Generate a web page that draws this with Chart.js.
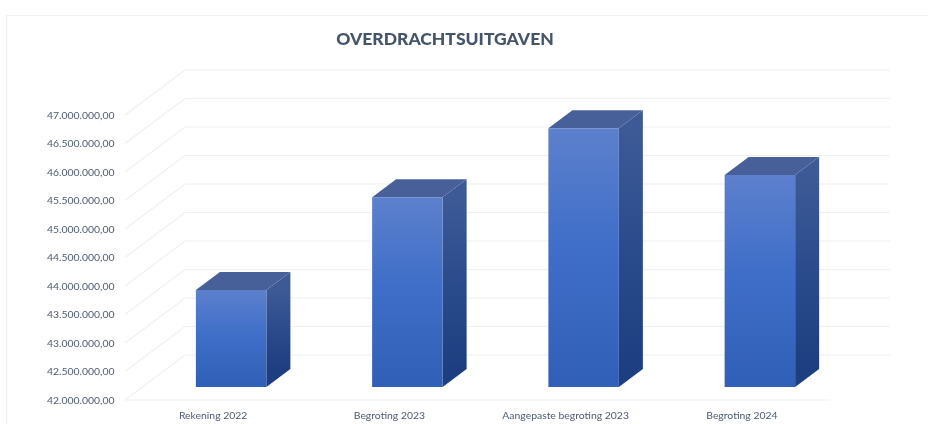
<!DOCTYPE html>
<html>
<head>
<meta charset="utf-8">
<script src="https://cdn.jsdelivr.net/npm/chart.js@4"></script>
<style>html,body{margin:0;padding:0;background:#fff}canvas{display:block}</style>
</head>
<body>
<canvas id="c" width="928" height="424" style="width:928px;height:424px"></canvas>
<script>
const titleText = "OVERDRACHTSUITGAVEN";
const categories = ["Rekening 2022", "Begroting 2023", "Aangepaste begroting 2023", "Begroting 2024"];
const values = [43700000, 45330000, 46540000, 45720000];
const axisMin = 42000000;
const axisMax = 47000000;
const axisStep = 500000;

const textColor = "#4b5a70";
const gridColor = "#eef0f3";
const wallDx = 60, wallDy = -45;   // depth of the back wall
const barDx = 18, barDy = -13;     // where the bars stand on the floor
const sideDx = 24, sideDy = -18;   // depth of each bar

function formatNL(v) {
  return Math.round(v).toString().replace(/\B(?=(\d{3})+$)/g, ".") + ",00";
}
function vGrad(ctx, y0, y1, stops) {
  const g = ctx.createLinearGradient(0, y0, 0, y1);
  stops.forEach(s => g.addColorStop(s[0], s[1]));
  return g;
}

const scene = {
  id: "scene",
  beforeDatasetsDraw(chart) {
    const { ctx, chartArea: a, scales: { y } } = chart;
    // frame of the page
    ctx.save();
    ctx.strokeStyle = "#eef1f6";
    ctx.lineWidth = 1;
    ctx.beginPath();
    ctx.moveTo(6.5, 424); ctx.lineTo(6.5, 15.5); ctx.lineTo(928, 15.5);
    ctx.stroke();
    // oblique grid: floor/side wall diagonals and the back wall lines
    ctx.strokeStyle = gridColor;
    ctx.lineWidth = 1.2;
    y.ticks.forEach(t => {
      const py = y.getPixelForValue(t.value);
      ctx.beginPath();
      ctx.moveTo(a.left, py);
      ctx.lineTo(a.left + wallDx, py + wallDy);
      ctx.lineTo(a.right + wallDx, py + wallDy);
      ctx.stroke();
    });
    const floor = y.getPixelForValue(axisMin);
    ctx.beginPath();
    ctx.moveTo(a.left, floor); ctx.lineTo(a.right, floor);
    ctx.stroke();
    ctx.restore();
  },
  beforeDatasetDraw(chart, args) {
    const ctx = chart.ctx;
    ctx.save();
    ctx.translate(barDx, barDy);
    args.meta.data.forEach(bar => {
      const l = bar.x - bar.width / 2, r = bar.x + bar.width / 2, t = bar.y, b = bar.base;
      ctx.fillStyle = vGrad(ctx, t, b + sideDy, [[0, "#3d5a96"], [0.5, "#2a4b8c"], [1, "#1d3e80"]]);
      ctx.beginPath();
      ctx.moveTo(r, t); ctx.lineTo(r + sideDx, t + sideDy);
      ctx.lineTo(r + sideDx, b + sideDy); ctx.lineTo(r, b);
      ctx.closePath(); ctx.fill();
      ctx.fillStyle = "#48609a";
      ctx.beginPath();
      ctx.moveTo(l, t); ctx.lineTo(l + sideDx, t + sideDy);
      ctx.lineTo(r + sideDx, t + sideDy); ctx.lineTo(r, t);
      ctx.closePath(); ctx.fill();
    });
  },
  afterDatasetDraw(chart) {
    chart.ctx.restore();
  }
};

new Chart(document.getElementById("c"), {
  type: "bar",
  plugins: [scene],
  data: {
    labels: categories,
    datasets: [{
      data: values,
      base: axisMin,
      clip: false,
      categoryPercentage: 1,
      barPercentage: 0.4,
      borderWidth: 0,
      backgroundColor(c) {
        const y = c.chart.scales.y;
        if (!y || !c.parsed) return "#3f6fc6";
        const y0 = y.getPixelForValue(c.parsed.y), y1 = y.getPixelForValue(axisMin);
        if (!Number.isFinite(y0) || !Number.isFinite(y1)) return "#3f6fc6";
        return vGrad(c.chart.ctx, y0, y1, [[0, "#5d80cd"], [0.45, "#3f6fc8"], [1, "#2f5fb6"]]);
      }
    }]
  },
  options: {
    responsive: false,
    animation: false,
    layout: { padding: { top: 29, left: 15, right: 53, bottom: 0 } },
    plugins: {
      legend: { display: false },
      tooltip: { enabled: false },
      title: {
        display: true,
        text: titleText,
        color: "#44546a",
        font: { family: "Lato", size: 17.5, weight: "900" },
        padding: { top: 0, bottom: 65 }
      }
    },
    scales: {
      x: {
        grid: { display: false, drawTicks: false },
        border: { display: false },
        ticks: { color: textColor, font: { family: "Lato", size: 10.4 }, padding: 9, maxRotation: 0, autoSkip: false },
        afterFit(s) { s.height = 24; }
      },
      y: {
        min: axisMin,
        max: axisMax,
        grid: { display: false, drawTicks: false },
        border: { display: false },
        ticks: {
          stepSize: axisStep,
          color: textColor,
          font: { family: "Lato", size: 10.4 },
          padding: 10.5,
          labelOffset: 0.5,
          autoSkip: false,
          callback: v => formatNL(v)
        },
        afterFit(s) { s.width = 110; }
      },
      spacer: {
        position: "right",
        min: axisMin,
        max: axisMax,
        grid: { display: false, drawTicks: false },
        border: { display: false },
        ticks: { display: false },
        afterFit(s) { s.width = 45; }
      }
    }
  }
});
</script>
</body>
</html>
